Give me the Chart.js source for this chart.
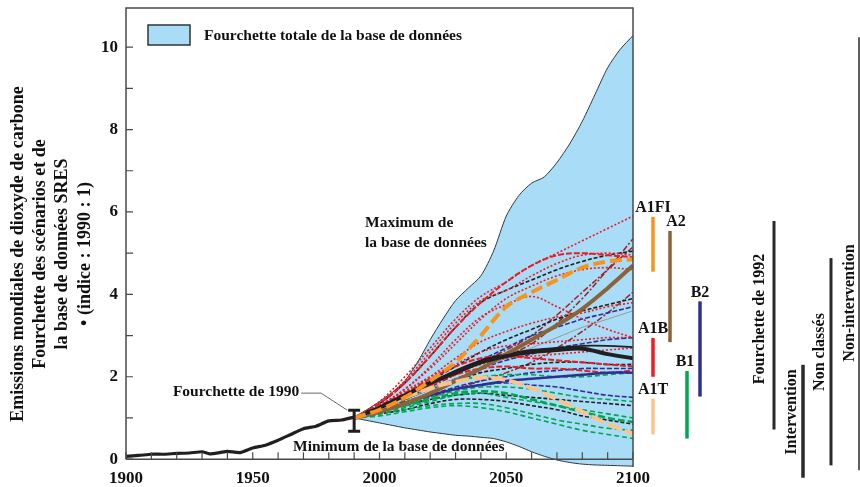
<!DOCTYPE html>
<html>
<head>
<meta charset="utf-8">
<script src="https://cdn.jsdelivr.net/npm/chart.js@4.4.0/dist/chart.umd.min.js"></script>
<style>
  html, body { margin: 0; padding: 0; background: #fff; }
</style>
</head>
<body>
<canvas id="chart" width="860" height="487"></canvas>
<script>
// ---- data ----
const xTicks = [1900, 1910, 1920, 1930, 1940, 1950, 1960, 1970, 1980, 1990, 2000, 2010, 2020, 2030, 2040, 2050, 2060, 2070, 2080, 2090, 2100];
const yTicks = [0, 1, 2, 3, 4, 5, 6, 7, 8, 9, 10];

const histYears = [1900, 1905, 1910, 1915, 1920, 1925, 1930, 1933, 1937, 1940, 1945, 1950, 1955, 1960, 1965, 1970, 1975, 1980, 1985, 1990];
const histValues = [0.07, 0.09, 0.12, 0.12, 0.14, 0.15, 0.18, 0.13, 0.16, 0.19, 0.16, 0.27, 0.34, 0.46, 0.6, 0.74, 0.8, 0.93, 0.95, 1.02];

const bandYears = [1990, 1995, 2000, 2005, 2010, 2015, 2020, 2025, 2030, 2035, 2040, 2045, 2050, 2055, 2060, 2065, 2070, 2075, 2080, 2085, 2090, 2095, 2100];
const bandMax = [1.02, 1.2, 1.4, 1.62, 1.9, 2.35, 2.9, 3.4, 3.85, 4.15, 4.45, 5.05, 5.9, 6.4, 6.7, 6.85, 7.2, 7.65, 8.2, 8.85, 9.5, 9.95, 10.28];
const bandMin = [1.0, 0.94, 0.88, 0.82, 0.76, 0.71, 0.66, 0.62, 0.58, 0.56, 0.53, 0.5, 0.42, 0.31, 0.18, 0.07, -0.02, -0.08, -0.12, -0.14, -0.15, -0.16, -0.17];

const scenarioYears = [1990, 2000, 2010, 2020, 2030, 2040, 2050, 2060, 2070, 2080, 2090, 2100];

const redDotted = [
  [1.0, 1.4, 2.0, 2.7, 3.4, 3.95, 4.3, 4.7, 5.0, 5.3, 5.6, 5.9],
  [1.0, 1.35, 1.9, 2.6, 3.3, 3.85, 4.1, 4.45, 4.75, 4.95, 5.0, 4.95],
  [1.0, 1.3, 1.7, 2.2, 2.8, 3.4, 3.9, 4.2, 4.45, 4.6, 4.65, 4.6],
  [1.0, 1.3, 1.7, 2.25, 2.9, 3.45, 3.75, 3.95, 3.7, 3.4, 3.15, 2.95],
  [1.0, 1.25, 1.6, 2.0, 2.45, 2.85, 3.1, 3.3, 3.45, 3.55, 3.7, 3.8],
  [1.0, 1.3, 1.65, 2.0, 2.3, 2.6, 2.75, 2.8, 2.85, 2.9, 2.95, 2.95],
  [1.0, 1.25, 1.55, 1.85, 2.1, 2.3, 2.45, 2.5, 2.55, 2.6, 2.65, 2.7]
];
const redSolid = [
  [1.0, 1.35, 1.85, 2.5, 3.2, 3.8, 4.3, 4.7, 4.95, 5.0, 4.95, 4.9],
  [1.0, 1.3, 1.6, 1.95, 2.25, 2.45, 2.5, 2.45, 2.4, 2.35, 2.3, 2.25],
  [1.0, 1.25, 1.5, 1.8, 2.05, 2.2, 2.25, 2.2, 2.2, 2.15, 2.1, 2.15]
];
const blackDashed = [
  [1.0, 1.35, 1.85, 2.5, 3.2, 3.8, 4.1, 4.35, 4.6, 4.8, 4.95, 5.05],
  [1.0, 1.25, 1.55, 1.9, 2.25, 2.6, 2.9, 3.15, 3.4, 3.6, 3.75, 3.9],
  [1.0, 1.2, 1.45, 1.7, 1.9, 2.1, 2.2, 2.3, 2.35, 2.35, 2.3, 2.3],
  [1.0, 1.15, 1.3, 1.45, 1.55, 1.6, 1.55, 1.5, 1.45, 1.4, 1.35, 1.3],
  [1.0, 1.1, 1.2, 1.35, 1.45, 1.45, 1.4, 1.3, 1.2, 1.05, 0.95, 0.85]
];
const blackThin = [1.0, 1.25, 1.55, 1.85, 2.15, 2.4, 2.55, 2.65, 2.7, 2.75, 2.75, 2.72];
const darkRedDashDot = [
  [1.0, 1.2, 1.4, 1.6, 1.9, 2.2, 2.5, 2.8, 3.3, 3.9, 4.6, 5.35],
  [1.0, 1.2, 1.45, 1.75, 2.05, 2.35, 2.65, 3.0, 3.5, 4.05, 4.6, 5.15],
  [1.0, 1.15, 1.3, 1.5, 1.7, 1.9, 2.1, 2.35, 2.7, 3.1, 3.55, 4.05]
];
const blueDashed = [
  [1.0, 1.2, 1.5, 1.8, 2.1, 2.4, 2.7, 3.0, 3.2, 3.4, 3.55, 3.7],
  [1.0, 1.2, 1.45, 1.7, 1.95, 2.2, 2.4, 2.55, 2.7, 2.8, 2.9, 2.95],
  [1.0, 1.15, 1.35, 1.55, 1.75, 1.9, 2.0, 2.1, 2.15, 2.2, 2.2, 2.2],
  [1.0, 1.15, 1.35, 1.55, 1.7, 1.8, 1.85, 1.8, 1.75, 1.65, 1.55, 1.5]
];
const blueSolid = [1.0, 1.15, 1.35, 1.55, 1.7, 1.8, 1.9, 1.95, 2.0, 2.05, 2.1, 2.1];
const greenDashed = [
  [1.0, 1.2, 1.45, 1.7, 1.9, 2.0, 2.05, 2.05, 2.0, 2.0, 2.05, 2.1],
  [1.0, 1.15, 1.3, 1.5, 1.65, 1.75, 1.75, 1.7, 1.6, 1.5, 1.45, 1.4],
  [1.0, 1.1, 1.25, 1.4, 1.55, 1.6, 1.5, 1.4, 1.3, 1.2, 1.1, 1.0],
  [1.0, 1.1, 1.2, 1.3, 1.35, 1.35, 1.25, 1.1, 0.95, 0.85, 0.75, 0.7],
  [1.0, 1.05, 1.15, 1.25, 1.3, 1.25, 1.15, 1.0, 0.85, 0.7, 0.6, 0.5]
];
const greenThick = [1.0, 1.15, 1.3, 1.45, 1.6, 1.65, 1.6, 1.45, 1.3, 1.15, 1.0, 0.9];
const grayThin = [1.0, 1.2, 1.45, 1.7, 1.95, 2.2, 2.45, 2.7, 2.95, 3.2, 3.4, 3.6];

const markerA1FI = [1.0, 1.2, 1.5, 1.9, 2.35, 3.0, 3.7, 4.05, 4.35, 4.65, 4.8, 4.85];
const markerA2 = [1.0, 1.15, 1.35, 1.6, 1.9, 2.2, 2.55, 2.9, 3.25, 3.65, 4.15, 4.7];
const markerA1B = [1.0, 1.25, 1.55, 1.85, 2.1, 2.35, 2.5, 2.6, 2.65, 2.68, 2.55, 2.45];
const markerA1T = [1.0, 1.25, 1.5, 1.72, 1.88, 1.98, 1.92, 1.72, 1.45, 1.15, 0.85, 0.62];

// 2100 ranges per scenario family
const familyNames = ['A1FI', 'A2', 'A1B', 'A1T', 'B1', 'B2'];
const familyLow = [4.55, 2.84, 2.0, 0.6, 0.5, 1.52];
const familyHigh = [5.88, 5.54, 2.94, 1.47, 2.14, 3.83];

// literature ranges at 2100
const rangeNames = ['Fourchette de 1992', 'Intervention', 'Non classés', 'Non-intervention'];
const rangeLow = [0.72, -0.45, -0.15, -0.27];
const rangeHigh = [5.78, 2.29, 4.88, 10.24];

// 1990 uncertainty
const errYear = 1990;
const errLow = 0.68;
const errHigh = 1.19;

const yTitleLines = [
  'Emissions mondiales de dioxyde de carbone',
  'Fourchette des scénarios et de',
  'la base de données SRES',
  '• (indice : 1990 : 1)'
];

// ---- styling ----
const BAND = '#a9dcf6';
const SERIF = '"Liberation Serif", "Times New Roman", serif';

function pts(xs, vals) {
  return vals.map((v, i) => ({ x: xs[i], y: v }));
}

function lineSet(vals, color, width, dash, order) {
  return {
    data: pts(scenarioYears, vals),
    borderColor: color,
    borderWidth: width,
    borderDash: dash,
    pointRadius: 0,
    fill: false,
    tension: 0.35,
    order: order
  };
}

const datasets = [];

// band is drawn at the back via order
datasets.push({
  data: pts(bandYears, bandMax),
  borderColor: '#2b3a45',
  borderWidth: 1,
  backgroundColor: BAND,
  fill: '+1',
  pointRadius: 0,
  tension: 0.25,
  order: 20
});
datasets.push({
  data: pts(bandYears, bandMin),
  borderColor: '#2b3a45',
  borderWidth: 1,
  pointRadius: 0,
  fill: false,
  tension: 0.25,
  order: 19
});

greenDashed.forEach(v => datasets.push(lineSet(v, '#00a651', 1.6, [5, 3], 10)));
blueDashed.forEach(v => datasets.push(lineSet(v, '#2e3192', 1.6, [5, 2], 10)));
blackDashed.forEach(v => datasets.push(lineSet(v, '#231f20', 1.6, [4, 2], 10)));
darkRedDashDot.forEach(v => datasets.push(lineSet(v, '#9e1f24', 1.5, [6, 2, 2, 2], 10)));
redDotted.forEach(v => datasets.push(lineSet(v, '#ed1c24', 1.6, [2, 2], 9)));
redSolid.forEach(v => datasets.push(lineSet(v, '#ed1c24', 2, [6, 2], 9)));
datasets.push(lineSet(grayThin, '#9a9a9a', 1, [], 9));
datasets.push(lineSet(blackThin, '#231f20', 1.8, [], 8));
datasets.push(lineSet(blueSolid, '#2e3192', 2.5, [], 8));
datasets.push(lineSet(greenThick, '#00a651', 2.5, [7, 3], 8));

datasets.push(lineSet(markerA2, '#8c6239', 4, [], 5));
datasets.push(lineSet(markerA1FI, '#f7941d', 4, [12, 5], 4));
datasets.push(lineSet(markerA1B, '#231f20', 4, [], 4));
datasets.push(lineSet(markerA1T, '#fbc48c', 4, [14, 4], 4));

datasets.push({
  data: pts(histYears, histValues),
  borderColor: '#231f20',
  borderWidth: 3.2,
  pointRadius: 0,
  fill: false,
  tension: 0.2,
  order: 1
});

// frame, ticks, labels and side ranges
const decor = {
  id: 'decor',
  afterDatasetsDraw(chart) {
    const ctx = chart.ctx;
    const a = chart.chartArea;
    const xs = chart.scales.x;
    const ys = chart.scales.y;
    const y0 = ys.getPixelForValue(0);

    ctx.save();
    ctx.strokeStyle = '#4a4a4a';
    ctx.lineWidth = 1.5;
    ctx.beginPath();
    ctx.moveTo(a.left, y0);
    ctx.lineTo(a.left, a.top);
    ctx.lineTo(a.right, a.top);
    ctx.lineTo(a.right, a.bottom);
    ctx.moveTo(a.left, y0);
    ctx.lineTo(a.right, y0);
    ctx.stroke();

    ctx.lineWidth = 1.2;
    ctx.beginPath();
    xTicks.forEach(t => {
      const px = xs.getPixelForValue(t);
      ctx.moveTo(px, y0);
      ctx.lineTo(px, y0 - 7);
    });
    yTicks.forEach(t => {
      const py = ys.getPixelForValue(t);
      ctx.moveTo(a.left, py);
      ctx.lineTo(a.left + 7, py);
    });
    ctx.stroke();

    // 1990 error bar
    const ex = xs.getPixelForValue(errYear);
    const et = ys.getPixelForValue(errHigh);
    const eb = ys.getPixelForValue(errLow);
    ctx.strokeStyle = '#231f20';
    ctx.lineWidth = 3;
    ctx.beginPath();
    ctx.moveTo(ex, et); ctx.lineTo(ex, eb);
    ctx.moveTo(ex - 6, et); ctx.lineTo(ex + 6, et);
    ctx.moveTo(ex - 6, eb); ctx.lineTo(ex + 6, eb);
    ctx.stroke();

    // leader to the 1990 label
    ctx.lineWidth = 0.8;
    ctx.strokeStyle = '#444';
    ctx.beginPath();
    ctx.moveTo(ex - 7, et);
    ctx.lineTo(ex - 33, et - 17);
    ctx.lineTo(ex - 53, et - 17);
    ctx.stroke();

    ctx.fillStyle = '#111';
    ctx.font = 'bold 15.5px ' + SERIF;
    ctx.textBaseline = 'middle';
    ctx.textAlign = 'right';
    ctx.fillText('Fourchette de 1990', ex - 55, et - 18);

    ctx.textAlign = 'left';
    ctx.fillText('Maximum de', 365, 223);
    ctx.fillText('la base de données', 365, 243);
    ctx.fillText('Minimum de la base de données', 293, 447);

    // legend
    ctx.fillStyle = BAND;
    ctx.fillRect(a.left + 22, a.top + 17, 42, 20);
    ctx.strokeStyle = '#333';
    ctx.lineWidth = 1.5;
    ctx.strokeRect(a.left + 22, a.top + 17, 42, 20);
    ctx.fillStyle = '#111';
    ctx.fillText('Fourchette totale de la base de données', a.left + 78, a.top + 28);

    // scenario family ranges at 2100
    const famColors = ['#f7941d', '#8c6239', '#ed1c24', '#fbc48c', '#00a651', '#2e3192'];
    const famX = [20, 37, 20, 20, 54, 67];
    const famLabelDx = [0, 6, 0, 0, -2, 0];
    ctx.lineWidth = 3.5;
    ctx.font = 'bold 16px ' + SERIF;
    ctx.textAlign = 'center';
    ctx.textBaseline = 'bottom';
    familyNames.forEach((n, i) => {
      const px = a.right + famX[i];
      const top = ys.getPixelForValue(familyHigh[i]);
      const bot = ys.getPixelForValue(familyLow[i]);
      ctx.strokeStyle = famColors[i];
      ctx.beginPath();
      ctx.moveTo(px, top); ctx.lineTo(px, bot);
      ctx.stroke();
      ctx.fillStyle = '#111';
      ctx.fillText(n, px + famLabelDx[i], top - 1);
    });

    // literature ranges
    const rngX = [141, 170, 198, 226];
    const rngW = [3, 3.5, 3, 1.5];
    const rngText = [127, 159, 187, 217];
    const rngCy = [319, 412, 352, 303];
    rangeNames.forEach((n, i) => {
      const px = a.right + rngX[i];
      ctx.strokeStyle = '#2a2a2a';
      ctx.lineWidth = rngW[i];
      ctx.beginPath();
      ctx.moveTo(px, ys.getPixelForValue(rangeHigh[i]));
      ctx.lineTo(px, ys.getPixelForValue(rangeLow[i]));
      ctx.stroke();
      ctx.save();
      ctx.translate(a.right + rngText[i], rngCy[i]);
      ctx.rotate(-Math.PI / 2);
      ctx.fillStyle = '#111';
      ctx.font = 'bold 16px ' + SERIF;
      ctx.textAlign = 'center';
      ctx.textBaseline = 'middle';
      ctx.fillText(n, 0, 0);
      ctx.restore();
    });

    // y axis title
    ctx.font = 'bold 18px ' + SERIF;
    ctx.fillStyle = '#111';
    ctx.textAlign = 'center';
    ctx.textBaseline = 'middle';
    const lineX = [18, 40, 62, 85];
    yTitleLines.forEach((t, i) => {
      ctx.save();
      ctx.translate(lineX[i], 254);
      ctx.rotate(-Math.PI / 2);
      ctx.fillText(t, 0, 0);
      ctx.restore();
    });
    ctx.restore();
  }
};

new Chart(document.getElementById('chart'), {
  type: 'line',
  data: { datasets: datasets },
  options: {
    responsive: false,
    animation: false,
    devicePixelRatio: 1,
    layout: { padding: { top: 8, right: 227, left: 0, bottom: 0 } },
    plugins: { legend: { display: false }, tooltip: { enabled: false } },
    scales: {
      x: {
        type: 'linear',
        min: 1900,
        max: 2100,
        afterBuildTicks: s => { s.ticks = xTicks.map(v => ({ value: v })); },
        afterFit: s => { s.height = 20; s.paddingLeft = 0; s.paddingRight = 0; },
        grid: { display: false, drawTicks: false },
        border: { display: false },
        ticks: {
          autoSkip: false,
          maxRotation: 0,
          padding: 1,
          color: '#111',
          font: { family: SERIF, size: 17, weight: 'bold' },
          callback: v => (v % 50 === 0 ? String(v) : '')
        }
      },
      y: {
        min: -0.19,
        max: 10.95,
        afterBuildTicks: s => { s.ticks = yTicks.map(v => ({ value: v })); },
        afterFit: s => { s.width = 126; s.paddingTop = 0; s.paddingBottom = 0; },
        grid: { display: false, drawTicks: false },
        border: { display: false },
        ticks: {
          padding: 8,
          color: '#111',
          font: { family: SERIF, size: 17, weight: 'bold' },
          callback: v => (v % 2 === 0 ? String(v) : '')
        }
      }
    }
  },
  plugins: [decor]
});
</script>
</body>
</html>
